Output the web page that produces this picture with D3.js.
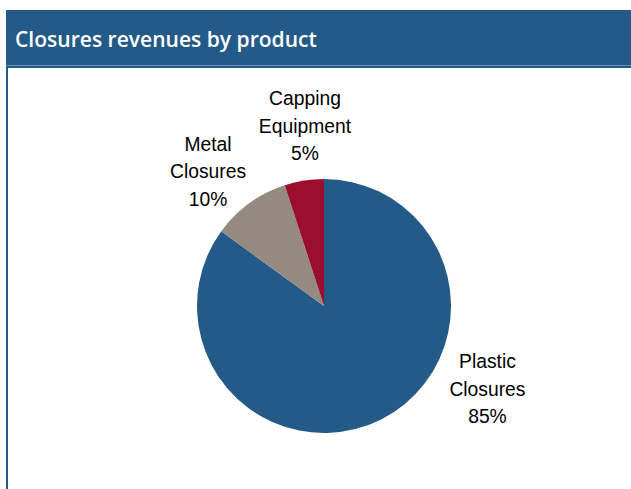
<!DOCTYPE html>
<html>
<head>
<meta charset="utf-8">
<script src="https://cdn.jsdelivr.net/npm/d3@7"></script>
<style>
  html, body { margin: 0; padding: 0; background: #fff; }
  svg { display: block; }
</style>
</head>
<body>
<svg id="chart" width="631" height="489"></svg>
<script>
// Revenue split by product line
const categories = ["Plastic Closures", "Metal Closures", "Capping Equipment"];
const labelLines = [["Plastic", "Closures"], ["Metal", "Closures"], ["Capping", "Equipment"]];
const shares = [85, 10, 5];
const colors = ["#245A87", "#958A80", "#9A0F2E"];
const title = "Closures revenues by product";

// Label anchors expressed relative to pie centre, in units of the radius
const labelOffsets = [[1.287, 0.65], [-0.913, -1.06], [-0.15, -1.42]];

const W = 631, H = 489;
const svg = d3.select("#chart");
const blue = "#245A87";

// Panel frame: header bar and left rule
svg.append("rect").attr("x", 6).attr("y", 10).attr("width", W - 6).attr("height", 55).attr("fill", blue);
svg.append("rect").attr("x", 6).attr("y", 65).attr("width", W - 6).attr("height", 1).attr("fill", "#6A8FB3");
svg.append("rect").attr("x", 6).attr("y", 66).attr("width", W - 6).attr("height", 2).attr("fill", blue);
svg.append("rect").attr("x", 6).attr("y", 66).attr("width", 2).attr("height", H - 66).attr("fill", blue);

const t = svg.append("text")
  .attr("x", 15).attr("y", 47)
  .attr("fill", "#fff")
  .style("font-family", "'Open Sans', 'Noto Sans', sans-serif")
  .style("font-weight", 600)
  .style("font-size", "20px")
  .text(title);
const targetW = 302;
const w0 = t.node().getComputedTextLength();
t.style("font-size", (20 * targetW / w0).toFixed(2) + "px");

// Pie
const cx = 324, cy = 306, r = 127;
const pie = d3.pie().sort(null).value(d => d.v);
const arc = d3.arc().innerRadius(0).outerRadius(r);
const data = categories.map((c, i) => ({ c, v: shares[i], i }));

const g = svg.append("g").attr("transform", `translate(${cx},${cy})`);
g.selectAll("path.slice")
  .data(pie(data))
  .join("path")
  .attr("class", "slice")
  .attr("d", arc)
  .attr("fill", d => colors[d.data.i]);

// Labels: name lines followed by percentage
const lineH = 27.5;
const labels = g.selectAll("text.lbl")
  .data(data)
  .join("text")
  .attr("class", "lbl")
  .attr("text-anchor", "middle")
  .attr("fill", "#000")
  .style("font-family", "'Liberation Sans', Arial, sans-serif")
  .style("font-size", "19.3px")
  .attr("transform", d => `translate(${labelOffsets[d.i][0] * r},${labelOffsets[d.i][1] * r})`);

labels.each(function(d) {
  const lines = labelLines[d.i].concat([d.v + "%"]);
  const el = d3.select(this);
  lines.forEach((ln, k) => {
    el.append("tspan")
      .attr("x", 0)
      .attr("y", (k - 1) * lineH + 7)
      .text(ln);
  });
});
</script>
</body>
</html>
